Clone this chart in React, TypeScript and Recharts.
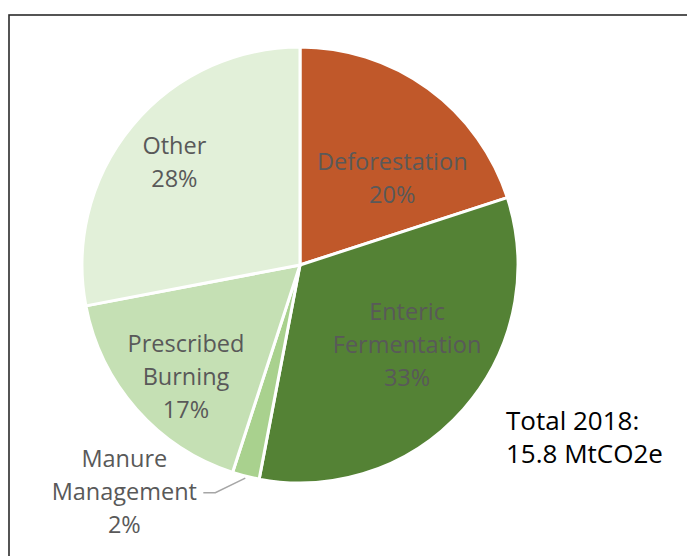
import React from 'react';
import { PieChart, Pie, Cell } from 'recharts';

const categories = ['Deforestation', 'Enteric Fermentation', 'Manure Management', 'Prescribed Burning', 'Other'];
const shares = [20, 33, 2, 17, 28];
const sliceColors = ['#C0582A', '#548235', '#A9D18E', '#C5E0B4', '#E2F0D9'];
const totalLines = ['Total 2018:', '15.8 MtCO2e'];

const data = categories.map((name, i) => ({ name, value: shares[i] }));

// label placement: radius and angle shift (degrees) relative to slice mid angle
const labelPlacement = [
  { r: 127, shift: -10.6 },
  { r: 133, shift: 5 },
  { r: 286, shift: -23.5 },
  { r: 159, shift: 2.8 },
  { r: 163, shift: 0 },
];

const RAD = Math.PI / 180;
const FONT = '"Open Sans", "Liberation Sans", sans-serif';
const LINE_H = 33;

const renderLabel = (props: any) => {
  const { cx, cy, midAngle, outerRadius, index, name, value } = props;
  const pl = labelPlacement[index];
  const a = (midAngle + pl.shift) * RAD;
  const lx = cx + pl.r * Math.cos(a);
  const ly = cy - pl.r * Math.sin(a);
  const lines = [...String(name).split(' '), `${value}%`];
  const startY = ly - ((lines.length - 1) * LINE_H) / 2;
  let leader: React.ReactNode = null;
  if (index === 2) {
    const m = midAngle * RAD;
    const ex = cx + (outerRadius + 2) * Math.cos(m);
    const ey = cy - (outerRadius + 2) * Math.sin(m);
    leader = (
      <polyline
        points={`${ex},${ey} ${lx + 91},${ly + 2} ${lx + 79},${ly + 2}`}
        fill="none"
        stroke="#A6A6A6"
        strokeWidth={1.5}
      />
    );
  }
  return (
    <g key={`lbl-${index}`}>
      {leader}
      <text
        x={lx}
        y={startY}
        textAnchor="middle"
        dominantBaseline="central"
        fill="#595959"
        fontSize={23.5}
        fontFamily={FONT}
      >
        {lines.map((t, i) => (
          <tspan key={i} x={lx} y={startY + i * LINE_H} dominantBaseline="central">
            {t}
          </tspan>
        ))}
      </text>
    </g>
  );
};

export default function App() {
  return (
    <div style={{ position: 'absolute', left: 0, top: 0, width: 687, height: 556, background: '#fff', overflow: 'hidden' }}>
      <svg width={687} height={556} style={{ position: 'absolute', left: 0, top: 0 }}>
        <rect x={9} y={15} width={700} height={600} fill="#fff" stroke="#2b2b2b" strokeWidth={1.6} />
        {totalLines.map((t, i) => (
          <text key={i} x={506} y={420 + i * 33} dominantBaseline="central" fontSize={26} fill="#000" fontFamily={FONT}>
            {t}
          </text>
        ))}
      </svg>
      <div style={{ position: 'absolute', left: 0, top: 0 }}>
        <PieChart width={687} height={556} margin={{ top: 0, right: 0, bottom: 0, left: 0 }}>
          <Pie
            data={data}
            dataKey="value"
            nameKey="name"
            cx={300}
            cy={265}
            outerRadius={218}
            startAngle={90}
            endAngle={-270}
            stroke="#fff"
            strokeWidth={3}
            label={renderLabel}
            labelLine={false}
            isAnimationActive={false}
          >
            {data.map((d, i) => (
              <Cell key={d.name} fill={sliceColors[i]} />
            ))}
          </Pie>
        </PieChart>
      </div>
    </div>
  );
}
